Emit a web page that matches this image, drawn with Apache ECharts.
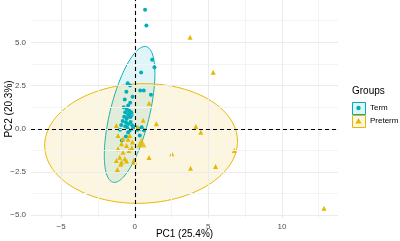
<!DOCTYPE html>
<html>
<head>
<meta charset="utf-8">
<script src="https://cdn.jsdelivr.net/npm/echarts@6/dist/echarts.min.js"></script>
<style>
  html, body { margin: 0; padding: 0; background: #fff; }
  #chart { width: 400px; height: 241px; }
</style>
</head>
<body>
<div id="chart"></div>
<script>
// ---- data ----
const groupNames = ['Term', 'Preterm'];

const xTicks = [-5, 0, 5, 10];
const yTicks = [-5, -2.5, 0, 2.5, 5];
const xMinor = [-2.5, 2.5, 7.5, 12.5];
const yMinor = [-3.75, -1.25, 1.25, 3.75, 6.25];

const termPoints = [
  [0.70, 6.88], [0.79, 5.97], [1.18, 3.99], [1.34, 3.56], [0.43, 3.25],
  [-0.48, 2.64], [-0.32, 2.50], [0.37, 2.21], [0.61, 2.21], [-0.57, 2.14],
  [1.10, 1.97], [-0.15, 1.85], [-0.68, 1.70], [-0.31, 1.51], [-0.75, 1.25],
  [-0.55, 1.15], [-0.45, 1.35], [-0.65, 0.95], [-0.40, 0.80], [-0.72, 0.70],
  [-0.55, 0.58], [-0.30, 0.68], [-0.82, 0.45], [-0.60, 0.38], [-0.45, 0.28],
  [-0.28, 0.40], [-0.18, 0.20], [-0.65, 0.15], [-0.50, 0.05], [-0.35, -0.10],
  [-0.12, 0.02], [-0.92, 0.22], [-1.00, -0.05], [-0.25, 0.95], [-0.38, 1.05],
  [0.02, 0.10], [0.34, 0.00], [0.47, 0.09], [0.18, -0.06], [0.34, -0.39],
  [-0.45, -0.22], [-0.60, -0.45], [-0.88, -0.68], [0.62, -0.08]
];

const pretermPoints = [
  [3.76, 5.30], [5.33, 3.27], [0.97, 1.48], [0.57, 0.50], [1.47, 0.29],
  [4.15, 0.13], [4.49, -0.20], [6.76, -1.25], [3.79, -2.28], [5.49, -2.18],
  [12.86, -4.59], [2.52, -1.45], [0.97, -1.66], [0.00, -1.93], [-1.18, -2.35],
  [0.22, 0.09], [-1.25, 0.19], [-1.14, -0.39], [-0.80, -0.58], [-0.34, -0.39],
  [-0.90, -0.87], [-0.56, -0.97], [-0.16, -0.77], [-1.14, -1.16], [-0.80, -1.35],
  [-0.39, -1.25], [-1.02, -1.64], [-0.68, -1.73], [-0.90, -1.93], [-0.56, -1.87],
  [-1.25, -1.83], [-0.07, -1.83], [-0.20, -1.10], [-0.95, -2.05], [-0.45, -0.60]
];

// group means (large markers)
const groupMeans = [[-0.35, 0.83], [0.45, -0.80]];

// confidence ellipses: centre, x/y half extents, phase (degrees)
const ellipseCentre = [[-0.35, 0.83], [0.43, -0.85]];
const ellipseRx = [1.72, 6.55];
const ellipseRy = [3.93, 3.46];
const ellipsePhase = [53, 88];

// ---- styling ----
const colors = ['#00AFBB', '#E7B800'];
const fills = ['rgba(0,175,187,0.12)', 'rgba(231,184,0,0.12)'];
const font = 'Liberation Sans, Arial, sans-serif';

const myChart = echarts.init(document.getElementById('chart'), null, { renderer: 'canvas' });

function ellipseItem(params, api) {
  const i = params.dataIndex;
  const c = ellipseCentre[i];
  const ph = ellipsePhase[i] * Math.PI / 180;
  const pts = [];
  for (let k = 0; k < 160; k++) {
    const t = k / 160 * 2 * Math.PI;
    pts.push(api.coord([c[0] + ellipseRx[i] * Math.cos(t + ph), c[1] + ellipseRy[i] * Math.cos(t)]));
  }
  return {
    type: 'polygon',
    shape: { points: pts },
    style: { fill: fills[i], stroke: colors[i], lineWidth: 1 }
  };
}

function gridLines(vals, axis, color) {
  return vals.map(v => ({ [axis]: v, lineStyle: { color: color, width: 1, type: 'solid' } }));
}

const minus = s => String(s).replace('-', '\u2212');

const option = {
  animation: false,
  grid: { left: 31, right: 62, top: 0, bottom: 23, containLabel: false, outerBoundsMode: 'none' },
  xAxis: {
    type: 'value',
    min: -7.05,
    max: 13.81,
    name: 'PC1 (25.4%)',
    nameLocation: 'middle',
    nameGap: 11,
    nameMoveOverlap: false,
    nameTextStyle: { color: '#000', fontSize: 10, fontFamily: font },
    axisLine: { show: false },
    axisTick: { show: true, customValues: xTicks, length: 3, lineStyle: { color: '#333', width: 1 } },
    axisLabel: { customValues: xTicks, color: '#4d4d4d', fontSize: 8, fontFamily: font, margin: 5, formatter: v => minus(v) },
    splitLine: { show: false }
  },
  yAxis: {
    type: 'value',
    min: -5.16,
    max: 7.45,
    name: 'PC2 (20.3%)',
    nameLocation: 'middle',
    nameGap: 17,
    nameMoveOverlap: false,
    nameTextStyle: { color: '#000', fontSize: 10, fontFamily: font },
    axisLine: { show: false },
    axisTick: { show: true, customValues: yTicks, length: 3, lineStyle: { color: '#333', width: 1 } },
    axisLabel: { customValues: yTicks, color: '#4d4d4d', fontSize: 8, fontFamily: font, margin: 5, formatter: v => minus(v.toFixed(1)) },
    splitLine: { show: false }
  },
  series: [
    {
      // panel grid lines
      type: 'scatter',
      data: [],
      silent: true,
      z: 0,
      markLine: {
        silent: true,
        symbol: ['none', 'none'],
        label: { show: false },
        data: [].concat(
          gridLines(xMinor, 'xAxis', '#f4f4f4'),
          gridLines(yMinor, 'yAxis', '#f4f4f4'),
          gridLines(xTicks, 'xAxis', '#ebebeb'),
          gridLines(yTicks, 'yAxis', '#ebebeb')
        )
      }
    },
    {
      type: 'custom',
      renderItem: ellipseItem,
      data: ellipseCentre,
      clip: false,
      silent: true,
      z: 1
    },
    {
      // reference lines at 0
      type: 'scatter',
      data: [],
      silent: true,
      z: 2,
      markLine: {
        silent: true,
        symbol: ['none', 'none'],
        label: { show: false },
        lineStyle: { color: '#000', width: 1.1, type: [4, 3] },
        data: [{ xAxis: 0 }, { yAxis: 0 }]
      }
    },
    {
      name: 'Term',
      type: 'scatter',
      data: termPoints,
      symbol: 'circle',
      symbolSize: 4,
      itemStyle: { color: colors[0], opacity: 1 },
      z: 3
    },
    {
      name: 'Preterm',
      type: 'scatter',
      data: pretermPoints,
      symbol: 'triangle',
      symbolSize: 5,
      itemStyle: { color: colors[1], opacity: 1 },
      z: 3
    },
    {
      type: 'scatter',
      data: [groupMeans[0]],
      symbol: 'circle',
      symbolSize: 8,
      itemStyle: { color: colors[0] },
      z: 4
    },
    {
      type: 'scatter',
      data: [groupMeans[1]],
      symbol: 'triangle',
      symbolSize: 10,
      itemStyle: { color: colors[1] },
      z: 4
    }
  ],
  graphic: [
    { type: 'text', left: 352, top: 86, style: { text: 'Groups', fill: '#000', font: '10px ' + font } },
    { type: 'rect', left: 352, top: 102, shape: { width: 13, height: 12 }, style: { fill: fills[0], stroke: colors[0], lineWidth: 1 } },
    { type: 'circle', shape: { cx: 358.5, cy: 108, r: 2.2 }, style: { fill: colors[0] } },
    { type: 'text', left: 370, top: 104, style: { text: groupNames[0], fill: '#000', font: '8px ' + font } },
    { type: 'rect', left: 352, top: 115, shape: { width: 13, height: 12 }, style: { fill: fills[1], stroke: colors[1], lineWidth: 1 } },
    { type: 'polygon', shape: { points: [[358.5, 118], [361.6, 123.5], [355.4, 123.5]] }, style: { fill: colors[1] } },
    { type: 'text', left: 370, top: 117, style: { text: groupNames[1], fill: '#000', font: '8px ' + font } }
  ]
};

myChart.setOption(option);
</script>
</body>
</html>
